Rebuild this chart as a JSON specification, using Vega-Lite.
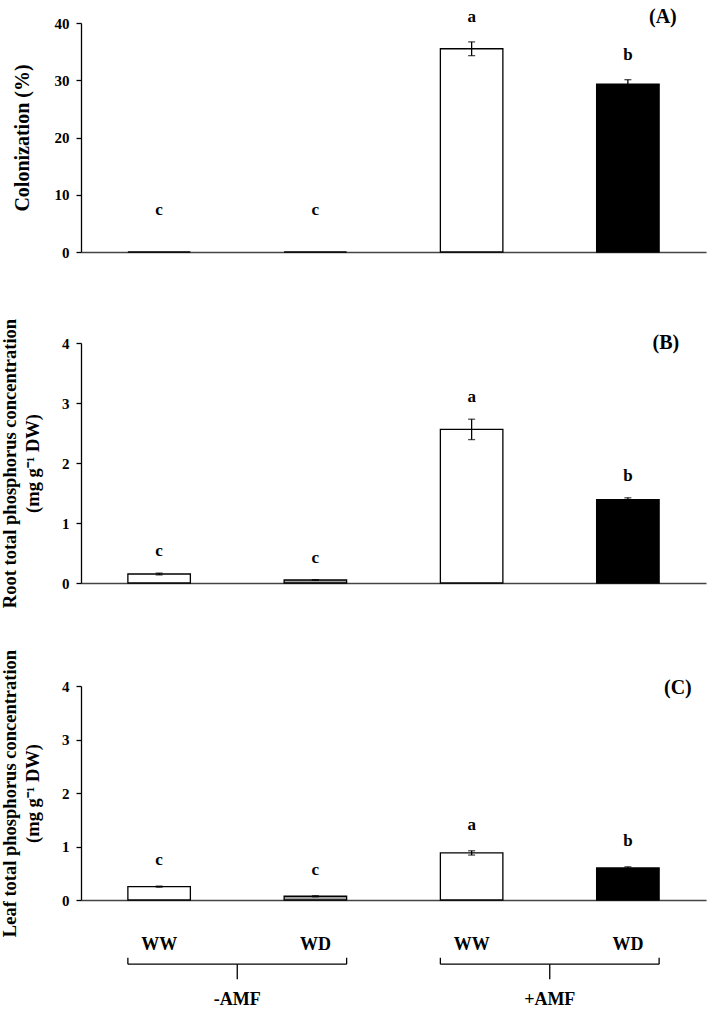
{
  "$schema": "https://vega.github.io/schema/vega-lite/v6.json",
  "padding": {"left": 0, "top": 7, "right": 5, "bottom": 5},
  "background": "white",
  "datasets": {
    "colonData": [
      {"cond": "-AMF WW", "mean": 0, "se": 0, "letter": "c"},
      {"cond": "-AMF WD", "mean": 0, "se": 0, "letter": "c"},
      {"cond": "+AMF WW", "mean": 35.5, "se": 1.2, "letter": "a"},
      {"cond": "+AMF WD", "mean": 29.3, "se": 0.8, "letter": "b"}
    ],
    "rootData": [
      {"cond": "-AMF WW", "mean": 0.15, "se": 0.015, "letter": "c"},
      {"cond": "-AMF WD", "mean": 0.05, "se": 0.005, "letter": "c"},
      {"cond": "+AMF WW", "mean": 2.56, "se": 0.17, "letter": "a"},
      {"cond": "+AMF WD", "mean": 1.39, "se": 0.03, "letter": "b"}
    ],
    "leafData": [
      {"cond": "-AMF WW", "mean": 0.25, "se": 0.01, "letter": "c"},
      {"cond": "-AMF WD", "mean": 0.07, "se": 0.01, "letter": "c"},
      {"cond": "+AMF WW", "mean": 0.88, "se": 0.04, "letter": "a"},
      {"cond": "+AMF WD", "mean": 0.6, "se": 0.02, "letter": "b"}
    ],
    "groupData": [
      {"group": "-AMF", "first": "-AMF WW", "last": "-AMF WD"},
      {"group": "+AMF", "first": "+AMF WW", "last": "+AMF WD"}
    ]
  },
  "config": {
    "view": {"stroke": null},
    "axis": {
      "grid": false, "domainColor": "black", "domainWidth": 1.3, "tickColor": "black", "tickWidth": 1.3, "tickSize": 5,
      "labelFont": "Liberation Serif", "labelFontWeight": "bold", "labelFontSize": 15, "labelColor": "black", "labelPadding": 7,
      "titleFont": "Liberation Serif", "titleFontWeight": "bold", "titleFontSize": 19, "titleColor": "black"
    },
    "axisX": {"domainColor": "#444444", "domainWidth": 1.5, "ticks": false, "labels": false, "title": null},
    "text": {"font": "Liberation Serif", "fontWeight": "bold", "color": "black", "baseline": "middle"},
    "tick": {"color": "black", "thickness": 1.3, "size": 7},
    "rule": {"color": "black", "strokeWidth": 1.3}
  },
  "vconcat": [
    {
      "width": 625, "height": 229,
      "layer": [
        {
          "data": {"name": "colonData"},
          "mark": {"type": "bar", "stroke": "black", "strokeWidth": 1.3},
          "encoding": {
            "x": {"field": "cond", "type": "nominal", "scale": {"domain": ["-AMF WW", "-AMF WD", "+AMF WW", "+AMF WD"], "paddingInner": 0.6, "paddingOuter": 0.3}, "axis": {"title": null}},
            "y": {"field": "mean", "type": "quantitative", "scale": {"domain": [0, 40]}, "axis": {"values": [0, 10, 20, 30, 40], "title": "Colonization (%)", "titleFontSize": 20, "titlePadding": 22}},
            "fill": {"field": "cond", "type": "nominal", "scale": {"domain": ["-AMF WW", "-AMF WD", "+AMF WW", "+AMF WD"], "range": ["white", "#a0a0a0", "white", "black"]}, "legend": null}
          }
        },
        {
          "data": {"name": "colonData"},
          "transform": [{"filter": "datum.se > 0"}, {"calculate": "datum.mean - datum.se", "as": "lo"}, {"calculate": "datum.mean + datum.se", "as": "hi"}],
          "mark": {"type": "rule"},
          "encoding": {
            "x": {"field": "cond", "type": "nominal"},
            "y": {"field": "lo", "type": "quantitative"},
            "y2": {"field": "hi"}
          }
        },
        {
          "data": {"name": "colonData"},
          "transform": [{"filter": "datum.se > 0"}, {"calculate": "datum.mean - datum.se", "as": "lo"}, {"calculate": "datum.mean + datum.se", "as": "hi"}, {"fold": ["lo", "hi"], "as": ["end", "bound"]}],
          "mark": {"type": "tick"},
          "encoding": {
            "x": {"field": "cond", "type": "nominal"},
            "y": {"field": "bound", "type": "quantitative"}
          }
        },
        {
          "data": {"name": "colonData"},
          "transform": [{"filter": "datum.se > 0"}, {"calculate": "datum.mean + datum.se", "as": "top"}],
          "mark": {"type": "text", "fontSize": 17, "dy": -25},
          "encoding": {
            "x": {"field": "cond", "type": "nominal"},
            "y": {"field": "top", "type": "quantitative"},
            "text": {"field": "letter"}
          }
        },
        {
          "data": {"name": "colonData"},
          "transform": [{"filter": "datum.se == 0"}],
          "mark": {"type": "text", "fontSize": 17, "dy": -42},
          "encoding": {
            "x": {"field": "cond", "type": "nominal"},
            "y": {"field": "mean", "type": "quantitative"},
            "text": {"field": "letter"}
          }
        },
        {
          "data": {"values": [{"label": "(A)"}]},
          "mark": {"type": "text", "fontSize": 20, "dx": 35, "dy": -6},
          "encoding": {
            "x": {"datum": "+AMF WD", "type": "nominal"},
            "y": {"datum": 40, "type": "quantitative"},
            "text": {"field": "label"}
          }
        }
      ]
    },
    {
      "vconcat": [
        {
          "width": 625, "height": 240,
          "layer": [
            {
              "data": {"name": "rootData"},
              "mark": {"type": "bar", "stroke": "black", "strokeWidth": 1.3},
              "encoding": {
                "x": {"field": "cond", "type": "nominal", "scale": {"domain": ["-AMF WW", "-AMF WD", "+AMF WW", "+AMF WD"], "paddingInner": 0.6, "paddingOuter": 0.3}, "axis": {"title": null}},
                "y": {"field": "mean", "type": "quantitative", "scale": {"domain": [0, 4]}, "axis": {"values": [0, 1, 2, 3, 4], "format": "d", "title": ["Root total phosphorus concentration", "(mg g⁻¹ DW)"], "titleLineHeight": 23, "titlePadding": 19, "titleFontSize": 18.5}},
                "fill": {"field": "cond", "type": "nominal", "scale": {"domain": ["-AMF WW", "-AMF WD", "+AMF WW", "+AMF WD"], "range": ["white", "#a0a0a0", "white", "black"]}, "legend": null}
              }
            },
            {
              "data": {"name": "rootData"},
              "transform": [{"calculate": "datum.mean - datum.se", "as": "lo"}, {"calculate": "datum.mean + datum.se", "as": "hi"}],
              "mark": {"type": "rule"},
              "encoding": {
                "x": {"field": "cond", "type": "nominal"},
                "y": {"field": "lo", "type": "quantitative"},
                "y2": {"field": "hi"}
              }
            },
            {
              "data": {"name": "rootData"},
              "transform": [{"calculate": "datum.mean - datum.se", "as": "lo"}, {"calculate": "datum.mean + datum.se", "as": "hi"}, {"fold": ["lo", "hi"], "as": ["end", "bound"]}],
              "mark": {"type": "tick"},
              "encoding": {
                "x": {"field": "cond", "type": "nominal"},
                "y": {"field": "bound", "type": "quantitative"}
              }
            },
            {
              "data": {"name": "rootData"},
              "transform": [{"calculate": "datum.mean + datum.se", "as": "top"}],
              "mark": {"type": "text", "fontSize": 17, "dy": -22},
              "encoding": {
                "x": {"field": "cond", "type": "nominal"},
                "y": {"field": "top", "type": "quantitative"},
                "text": {"field": "letter"}
              }
            },
            {
              "data": {"values": [{"label": "(B)"}]},
              "mark": {"type": "text", "fontSize": 20, "dx": 38, "dy": 0},
              "encoding": {
                "x": {"datum": "+AMF WD", "type": "nominal"},
                "y": {"datum": 4, "type": "quantitative"},
                "text": {"field": "label"}
              }
            }
          ]
        },
        {
          "width": 625, "height": 214,
          "layer": [
            {
              "data": {"name": "leafData"},
              "mark": {"type": "bar", "stroke": "black", "strokeWidth": 1.3},
              "encoding": {
                "x": {"field": "cond", "type": "nominal", "scale": {"domain": ["-AMF WW", "-AMF WD", "+AMF WW", "+AMF WD"], "paddingInner": 0.6, "paddingOuter": 0.3}, "axis": {"title": null, "labels": true, "labelExpr": "split(datum.label, ' ')[1]", "labelPadding": 35, "labelFontSize": 18, "labelAngle": 0}},
                "y": {"field": "mean", "type": "quantitative", "scale": {"domain": [0, 4]}, "axis": {"values": [0, 1, 2, 3, 4], "format": "d", "title": ["Leaf total phosphorus concentration", "(mg g⁻¹ DW)"], "titleLineHeight": 23, "titlePadding": 19, "titleFontSize": 18.5}},
                "fill": {"field": "cond", "type": "nominal", "scale": {"domain": ["-AMF WW", "-AMF WD", "+AMF WW", "+AMF WD"], "range": ["white", "#a0a0a0", "white", "black"]}, "legend": null}
              }
            },
            {
              "data": {"name": "leafData"},
              "transform": [{"calculate": "datum.mean - datum.se", "as": "lo"}, {"calculate": "datum.mean + datum.se", "as": "hi"}],
              "mark": {"type": "rule"},
              "encoding": {
                "x": {"field": "cond", "type": "nominal"},
                "y": {"field": "lo", "type": "quantitative"},
                "y2": {"field": "hi"}
              }
            },
            {
              "data": {"name": "leafData"},
              "transform": [{"calculate": "datum.mean - datum.se", "as": "lo"}, {"calculate": "datum.mean + datum.se", "as": "hi"}, {"fold": ["lo", "hi"], "as": ["end", "bound"]}],
              "mark": {"type": "tick"},
              "encoding": {
                "x": {"field": "cond", "type": "nominal"},
                "y": {"field": "bound", "type": "quantitative"}
              }
            },
            {
              "data": {"name": "leafData"},
              "transform": [{"calculate": "datum.mean + datum.se", "as": "top"}],
              "mark": {"type": "text", "fontSize": 17, "dy": -26},
              "encoding": {
                "x": {"field": "cond", "type": "nominal"},
                "y": {"field": "top", "type": "quantitative"},
                "text": {"field": "letter"}
              }
            },
            {
              "data": {"values": [{"label": "(C)"}]},
              "mark": {"type": "text", "fontSize": 20, "dx": 50, "dy": 2},
              "encoding": {
                "x": {"datum": "+AMF WD", "type": "nominal"},
                "y": {"datum": 4, "type": "quantitative"},
                "text": {"field": "label"}
              }
            },
            {
              "data": {"name": "groupData"},
              "mark": {"type": "rule"},
              "encoding": {
                "x": {"field": "first", "type": "nominal", "bandPosition": 0},
                "x2": {"field": "last", "bandPosition": 1},
                "y": {"datum": -1.2, "type": "quantitative"}
              }
            },
            {
              "data": {"name": "groupData"},
              "mark": {"type": "rule"},
              "encoding": {
                "x": {"field": "first", "type": "nominal", "bandPosition": 0},
                "y": {"datum": -1.2, "type": "quantitative"},
                "y2": {"datum": -1.08}
              }
            },
            {
              "data": {"name": "groupData"},
              "mark": {"type": "rule"},
              "encoding": {
                "x": {"field": "last", "type": "nominal", "bandPosition": 1},
                "y": {"datum": -1.2, "type": "quantitative"},
                "y2": {"datum": -1.08}
              }
            },
            {
              "data": {"name": "groupData"},
              "mark": {"type": "rule"},
              "encoding": {
                "x": {"field": "first", "type": "nominal", "bandPosition": 1.75},
                "y": {"datum": -1.2, "type": "quantitative"},
                "y2": {"datum": -1.48}
              }
            },
            {
              "data": {"name": "groupData"},
              "mark": {"type": "text", "fontSize": 18},
              "encoding": {
                "x": {"field": "first", "type": "nominal", "bandPosition": 1.75},
                "y": {"datum": -1.87, "type": "quantitative"},
                "text": {"field": "group"}
              }
            }
          ]
        }
      ],
      "spacing": 103,
      "bounds": "flush"
    }
  ],
  "spacing": 91,
  "bounds": "flush"
}
